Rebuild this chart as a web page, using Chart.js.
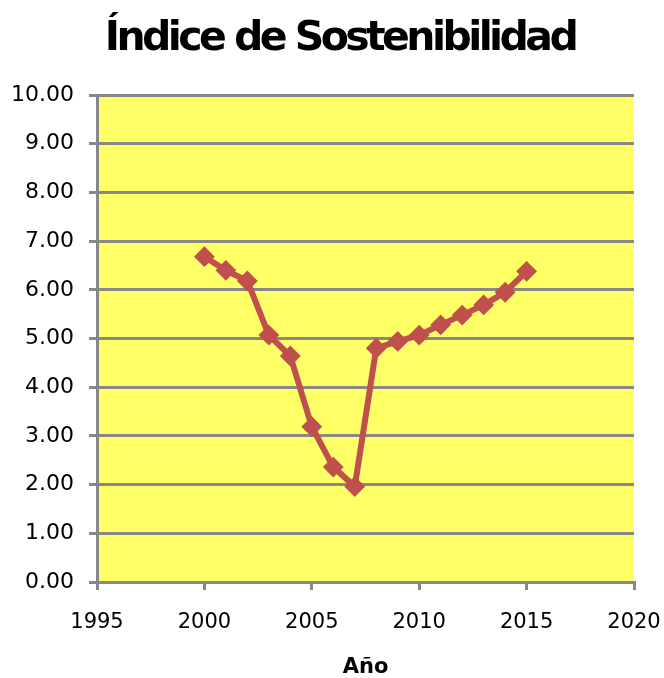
<!DOCTYPE html>
<html>
<head>
<meta charset="utf-8">
<script src="https://cdn.jsdelivr.net/npm/chart.js@4/dist/chart.umd.min.js"></script>
<style>
  html, body { margin: 0; padding: 0; background: #ffffff; }
  #wrap { width: 664px; height: 678px; position: relative; }
</style>
</head>
<body>
<div id="wrap"><canvas id="sostChart"></canvas></div>
<script>
// Chart data.
var chartTitle = "Índice de Sostenibilidad";
var xTitle = "Año";
var years = [2000, 2001, 2002, 2003, 2004, 2005, 2006, 2007, 2008, 2009, 2010, 2011, 2012, 2013, 2014, 2015];
var indexValues = [6.68, 6.40, 6.18, 5.07, 4.64, 3.19, 2.36, 1.96, 4.80, 4.94, 5.07, 5.28, 5.48, 5.69, 5.95, 6.38];
var xTicks = [1995, 2000, 2005, 2010, 2015, 2020];
var yTicks = [0, 1, 2, 3, 4, 5, 6, 7, 8, 9, 10];

var points = [];
for (var i = 0; i < years.length; i++) {
  points.push({ x: years[i], y: indexValues[i] });
}

// Yellow plot area behind the grid.
var plotBackground = {
  id: "plotBackground",
  beforeDraw: function (chart) {
    var ctx = chart.ctx;
    var area = chart.chartArea;
    ctx.save();
    ctx.fillStyle = "#FFFF66";
    ctx.fillRect(area.left, area.top, area.right - area.left, area.bottom - area.top);
    ctx.restore();
  }
};

// Big tight bold title, squeezed to the width it has in the reference.
var tightTitle = {
  id: "tightTitle",
  afterDraw: function (chart) {
    var ctx = chart.ctx;
    ctx.save();
    ctx.font = "bold 41px 'DejaVu Sans'";
    ctx.fillStyle = "#000000";
    ctx.textBaseline = "alphabetic";
    ctx.textAlign = "left";
    var natural = ctx.measureText(chartTitle).width;
    var spacing = (474 - natural) / (chartTitle.length - 1);
    ctx.letterSpacing = spacing + "px";
    var w = ctx.measureText(chartTitle).width;
    ctx.fillText(chartTitle, 340 - w / 2, 50);
    ctx.restore();
  }
};

var config = {
  type: "line",
  data: {
    datasets: [
      {
        label: chartTitle,
        data: points,
        borderColor: "#C0504D",
        backgroundColor: "#C0504D",
        borderWidth: 6,
        pointStyle: "rectRot",
        pointRadius: 9,
        pointBorderWidth: 2,
        pointBackgroundColor: "#C0504D",
        pointBorderColor: "#C0504D",
        tension: 0,
        fill: false
      }
    ]
  },
  options: {
    responsive: false,
    animation: false,
    devicePixelRatio: 1,
    layout: { padding: { top: 95, right: 30, left: 0, bottom: 0 } },
    plugins: {
      legend: { display: false },
      title: { display: false },
      tooltip: { enabled: false }
    },
    scales: {
      x: {
        type: "linear",
        min: xTicks[0],
        max: xTicks[xTicks.length - 1],
        afterBuildTicks: function (scale) {
          scale.ticks = xTicks.map(function (v) { return { value: v }; });
        },
        afterFit: function (scale) {
          scale.height = 96;
          scale.paddingLeft = 0;
          scale.paddingRight = 0;
        },
        grid: {
          drawOnChartArea: false,
          drawTicks: true,
          tickLength: 8,
          color: "#888888",
          lineWidth: 3
        },
        border: { color: "#888888", width: 3 },
        ticks: {
          color: "#000000",
          padding: 20,
          maxRotation: 0,
          font: { family: "'DejaVu Sans'", size: 21 },
          callback: function (value) { return String(value); }
        },
        title: {
          display: true,
          text: xTitle,
          color: "#000000",
          padding: { top: 0, bottom: 0 },
          font: { family: "'DejaVu Sans'", size: 21, weight: "bold", lineHeight: 1 }
        }
      },
      y: {
        type: "linear",
        min: yTicks[0],
        max: yTicks[yTicks.length - 1],
        afterBuildTicks: function (scale) {
          scale.ticks = yTicks.map(function (v) { return { value: v }; });
        },
        afterFit: function (scale) { scale.width = 97; },
        grid: {
          drawOnChartArea: true,
          drawTicks: true,
          tickLength: 8,
          color: "#888888",
          lineWidth: 3
        },
        border: { color: "#888888", width: 3 },
        ticks: {
          color: "#000000",
          padding: 15,
          font: { family: "'DejaVu Sans'", size: 22 },
          callback: function (value) { return Number(value).toFixed(2); }
        }
      }
    }
  },
  plugins: [plotBackground, tightTitle]
};

var canvas = document.getElementById("sostChart");
canvas.width = 664;
canvas.height = 678;
var myChart = new Chart(canvas, config);
</script>
</body>
</html>
